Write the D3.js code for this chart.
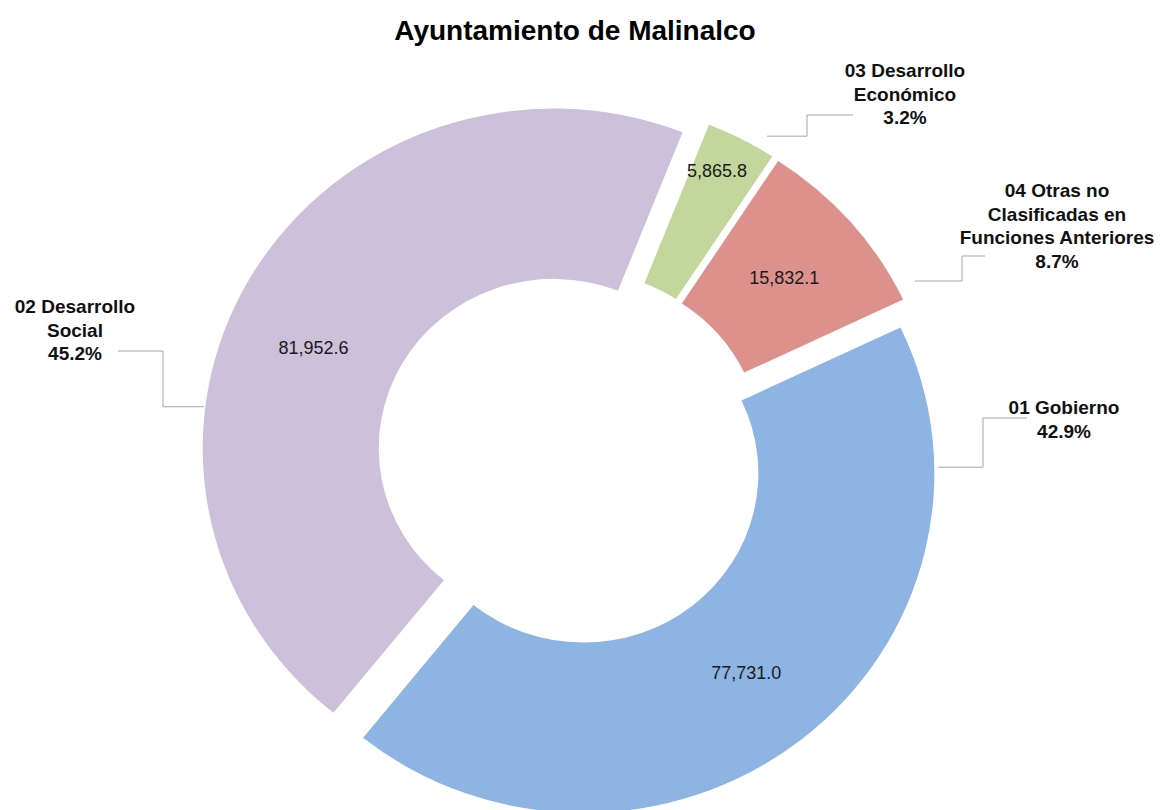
<!DOCTYPE html>
<html>
<head>
<meta charset="utf-8">
<script src="https://cdn.jsdelivr.net/npm/d3@7"></script>
<style>
  body { margin: 0; background: #fff; }
  svg { display: block; }
  text { font-family: "Liberation Sans", Arial, sans-serif; }
</style>
</head>
<body>
<div class="chart"></div>
<script>
'use strict'

// data
const categories = ['01 Gobierno', '02 Desarrollo Social', '03 Desarrollo Económico',
  '04 Otras no Clasificadas en Funciones Anteriores']
const values = [77731.0, 81952.6, 5865.8, 15832.1]
const labelLines = [
  ['01 Gobierno'],
  ['02 Desarrollo', 'Social'],
  ['03 Desarrollo', 'Económico'],
  ['04 Otras no', 'Clasificadas en', 'Funciones Anteriores']
]
const colors = ['#8DB4E2', '#CCC0DA', '#C3D69B', '#DD918D']

const width = 1164
const height = 810
const cx = 571
const cy = 458
const outerR = 351
const innerR = 175
const explode = 20
const ky = 0.968
const firstAngle = 64.6 * Math.PI / 180

// callout boxes: label centre, first line y, leader anchor (angle deg, radius) and elbow
const callouts = [
  { x: 1064, y: 414, anchorA: 89, anchorR: 355, elbowX: 983, endY: 418, endX: 1027 },
  { x: 75, y: 313, anchorA: 277, anchorR: 352, elbowX: 163, endY: 351, endX: 118 },
  { x: 905, y: 77, anchorA: 30.7, anchorR: 366, elbowX: 807, endY: 115, endX: 853 },
  { x: 1057, y: 197, anchorA: 62.7, anchorR: 370, elbowX: 962, endY: 256, endX: 985 }
]
const valueNudge = { 1: [-13, 28], 2: [16, -44] }

const fmtValue = d3.format(',.1f')
const fmtPct = d3.format('.1%')
const total = d3.sum(values)

const svg = d3.select('.chart').append('svg')
    .attr('width', width)
    .attr('height', height)

svg.append('text')
    .attr('x', 575)
    .attr('y', 40)
    .attr('text-anchor', 'middle')
    .style('font-size', '28px')
    .style('font-weight', 'bold')
    .text('Ayuntamiento de Malinalco')

const pie = d3.pie()
    .sort(null)
    .startAngle(firstAngle)
    .endAngle(firstAngle + 2 * Math.PI)
const arcs = pie(values)

const arc = d3.arc()
    .innerRadius(innerR)
    .outerRadius(outerR)

function mid(d) {
  return (d.startAngle + d.endAngle) / 2
}
function shift(d) {
  const a = mid(d)
  return [explode * Math.sin(a), -explode * Math.cos(a)]
}
// screen position of a point given in the slice's own polar coords
function toScreen(d, a, rad) {
  const s = shift(d)
  return [cx + s[0] + rad * Math.sin(a), cy + ky * (s[1] - rad * Math.cos(a))]
}

const donut = svg.append('g')
    .attr('transform', 'translate(' + cx + ',' + cy + ') scale(1,' + ky + ')')

donut.selectAll('.slice')
    .data(arcs)
  .enter().append('path')
    .attr('class', 'slice')
    .attr('transform', d => 'translate(' + shift(d) + ')')
    .attr('d', arc)
    .attr('fill', (d, i) => colors[i])

// value labels
svg.selectAll('.value')
    .data(arcs)
  .enter().append('text')
    .attr('class', 'value')
    .attr('x', (d, i) => toScreen(d, mid(d), (innerR + outerR) / 2)[0] + (valueNudge[i] ? valueNudge[i][0] : 0))
    .attr('y', (d, i) => toScreen(d, mid(d), (innerR + outerR) / 2)[1] + (valueNudge[i] ? valueNudge[i][1] : 0))
    .attr('text-anchor', 'middle')
    .attr('dy', '0.35em')
    .style('font-size', '18px')
    .style('fill', '#1a1a1a')
    .text(d => fmtValue(d.data))

// leader lines
svg.selectAll('.leader')
    .data(arcs)
  .enter().append('path')
    .attr('class', 'leader')
    .attr('fill', 'none')
    .attr('stroke', '#a6a6a6')
    .attr('stroke-width', 1)
    .attr('d', (d, i) => {
      const c = callouts[i]
      const p = toScreen(d, c.anchorA * Math.PI / 180, c.anchorR)
      return 'M' + p[0] + ',' + p[1] + 'H' + c.elbowX + 'V' + c.endY + 'H' + c.endX
    })

// category labels
const label = svg.selectAll('.label')
    .data(arcs)
  .enter().append('text')
    .attr('class', 'label')
    .attr('text-anchor', 'middle')
    .attr('x', (d, i) => callouts[i].x)
    .attr('y', (d, i) => callouts[i].y)
    .style('font-size', '19px')
    .style('font-weight', 'bold')
    .style('fill', '#111')

label.selectAll('tspan')
    .data((d, i) => labelLines[i].concat([fmtPct(d.data / total)]))
  .enter().append('tspan')
    .attr('x', function() { return d3.select(this.parentNode).attr('x') })
    .attr('dy', (t, j) => j === 0 ? 0 : 23.5)
    .text(t => t)
</script>
</body>
</html>
